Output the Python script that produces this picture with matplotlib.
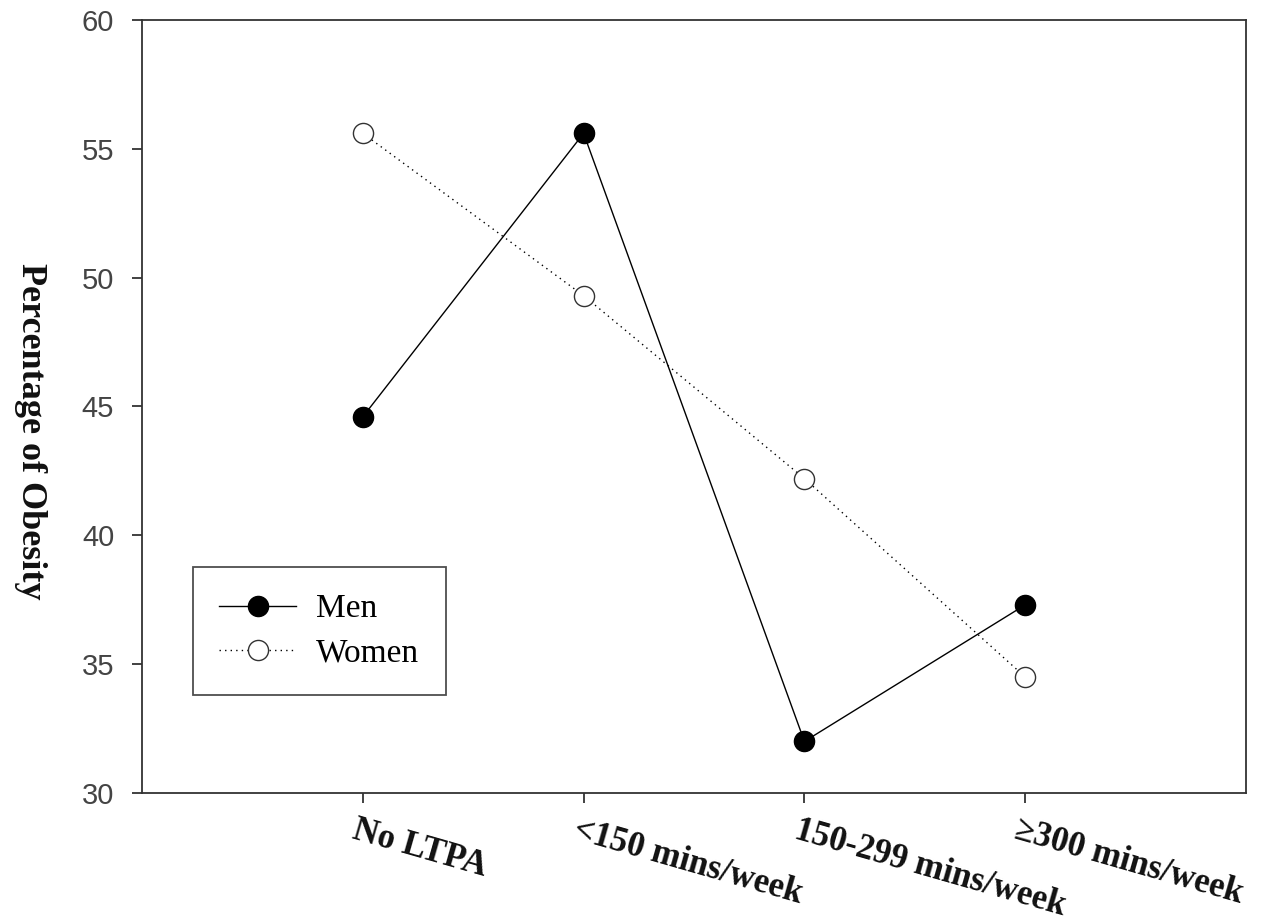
import matplotlib
matplotlib.use("Agg")
import matplotlib.pyplot as plt
import matplotlib.transforms as mtransforms

# data
categories = ["No LTPA", "<150 mins/week", "150-299 mins/week", "\u2265300 mins/week"]
men = [44.6, 55.6, 32.0, 37.3]
women = [55.6, 49.3, 42.2, 34.5]
yticks = [30, 35, 40, 45, 50, 55, 60]

serif = ["Liberation Serif", "DejaVu Serif"]
sans = ["Liberation Sans", "DejaVu Sans"]

fig = plt.figure(figsize=(12.76, 9.24), dpi=100)
ax = fig.add_axes([0.1113, 0.1418, 0.8652, 0.8366])

x = list(range(len(categories)))
ax.plot(x, men, color="black", lw=1.0, ls="-", marker="o", ms=14.5,
        mfc="black", mec="black", label="Men", zorder=3)
ax.plot(x, women, color="black", lw=1.0, ls=(0, (1, 3)), marker="o", ms=14.5,
        mfc="white", mec="#333333", mew=1.0, label="Women", zorder=3)

ax.set_xlim(-1, 4)
ax.set_ylim(30, 60)
ax.set_yticks(yticks)
ax.set_xticks(x)

for s in ax.spines.values():
    s.set_linewidth(1.3)
    s.set_color("#333333")

ax.tick_params(axis="both", direction="out", length=7, width=1.3, color="#333333")
ax.tick_params(axis="y", pad=13)
ax.set_yticklabels([str(v) for v in yticks], fontsize=21, family=sans, color="#444444")

labels = ax.set_xticklabels(categories, rotation=-16, ha="left", va="top",
                            rotation_mode="anchor", fontsize=25, fontweight="bold",
                            family=serif, color="#111111")
ax.tick_params(axis="x", pad=8)
shift = mtransforms.ScaledTranslation(-5 / 100, 0, fig.dpi_scale_trans)
for lab in labels:
    lab.set_transform(lab.get_transform() + shift)

fig.text(0.024, 0.533, "Percentage of Obesity", rotation=270, ha="center", va="center",
         fontsize=26, fontweight="bold", family=serif, color="#111111")

leg = ax.legend(loc="upper left", bbox_to_anchor=(0.046, 0.292), prop={"family": serif, "size": 24},
                frameon=True, fancybox=False, edgecolor="#222222", handlelength=2.3,
                handletextpad=0.6, borderpad=0.8, borderaxespad=0, labelspacing=0.4)
leg.get_frame().set_linewidth(1.3)

fig.savefig("out.png", dpi=100, facecolor="white")
